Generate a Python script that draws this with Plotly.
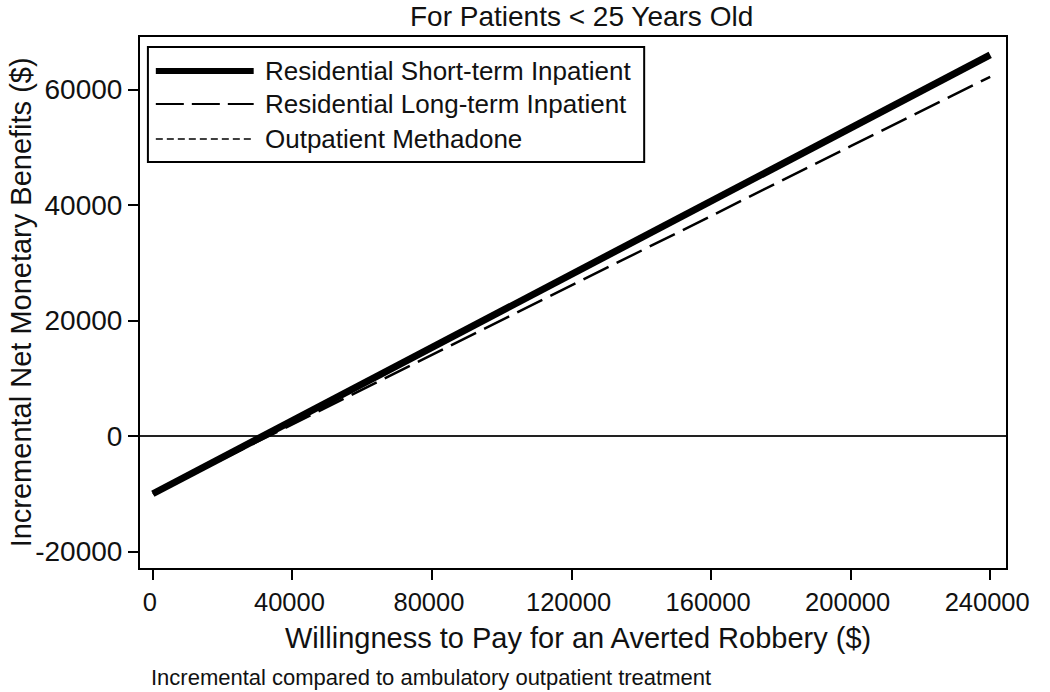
import plotly.graph_objects as go

# ---- data ----
wtp = [0, 40000, 80000, 120000, 160000, 200000, 240000]
short_term = [-10000, 2700, 15300, 28000, 40700, 53300, 66000]
long_term = [-10000, 2000, 14000, 26100, 38100, 50200, 62200]
methadone = [-10000, 2600, 15200, 27800, 40400, 53000, 65600]

series_names = ["Residential Short-term Inpatient",
                "Residential Long-term Inpatient",
                "Outpatient Methadone"]
x_ticks = [0, 40000, 80000, 120000, 160000, 200000, 240000]
y_ticks = [-20000, 0, 20000, 40000, 60000]

title_text = "For Patients < 25 Years Old"
x_title = "Willingness to Pay for an Averted Robbery ($)"
y_title = "Incremental Net Monetary Benefits ($)"
note_text = "Incremental compared to ambulatory outpatient treatment"

# ---- layout geometry (pixels, window coordinates) ----
W, H = 1042, 692
L, R, T, B = 140, 1016, 37, 568
FONT = "Liberation Sans, Arial, sans-serif"
INK = "#111111"


def px(xp):
    return (xp - L) / (R - L)


def py(yp):
    return (B - yp) / (B - T)


styles = [dict(width=7, dash="solid"),
          dict(width=2.5, dash="28px,9px"),
          dict(width=1.5, dash="7px,4px")]
legend_styles = [dict(width=6, dash="solid"),
                 dict(width=1.8, dash="28px,8px"),
                 dict(width=1.5, dash="7px,4px")]

fig = go.Figure()
for name, ys, st in zip(series_names, [short_term, long_term, methadone], styles):
    fig.add_trace(go.Scatter(x=wtp, y=ys, mode="lines", name=name,
                             line=dict(color="black", width=st["width"], dash=st["dash"]),
                             showlegend=False))

shapes = []
annotations = []

# custom legend box
shapes.append(dict(type="rect", xref="paper", yref="paper",
                   x0=px(148), x1=px(650), y0=py(162), y1=py(47),
                   line=dict(color="black", width=2), fillcolor="white", layer="above"))
rows = [71, 104, 139]
for name, yr, st in zip(series_names, rows, legend_styles):
    shapes.append(dict(type="line", xref="paper", yref="paper",
                       x0=px(156), x1=px(255), y0=py(yr), y1=py(yr),
                       line=dict(color="black", width=st["width"], dash=st["dash"]),
                       layer="above"))
    annotations.append(dict(text=name, xref="paper", yref="paper",
                            x=px(264), y=py(yr), xanchor="left", yanchor="middle",
                            showarrow=False, font=dict(family=FONT, size=26, color=INK)))

# titles / notes
annotations.append(dict(text=title_text, xref="paper", yref="paper",
                        x=px(587), y=py(0), xanchor="center", yanchor="top",
                        borderpad=0,
                        showarrow=False, font=dict(family=FONT, size=28, color=INK)))
annotations.append(dict(text=x_title, xref="paper", yref="paper",
                        x=px(583), y=py(638), xanchor="center", yanchor="middle",
                        showarrow=False, font=dict(family=FONT, size=29, color=INK)))
annotations.append(dict(text=y_title, xref="paper", yref="paper",
                        x=px(20), y=py(302), xanchor="center", yanchor="middle",
                        textangle=-90,
                        showarrow=False, font=dict(family=FONT, size=29, color=INK)))
annotations.append(dict(text=note_text, xref="paper", yref="paper",
                        x=px(149), y=py(692), xanchor="left", yanchor="bottom",
                        showarrow=False, font=dict(family=FONT, size=22, color=INK)))

fig.update_layout(
    width=W, height=H,
    margin=dict(l=L, r=W - R, t=T, b=H - B, pad=0),
    paper_bgcolor="white", plot_bgcolor="white",
    font=dict(family=FONT, color=INK),
    shapes=shapes, annotations=annotations,
    showlegend=False,
)
fig.update_xaxes(range=[-3684, 244534], tickvals=x_ticks,
                 ticktext=[str(v) for v in x_ticks],
                 ticklabelshift=-3,
                 showgrid=False, zeroline=False,
                 showline=True, mirror=True, linecolor="black", linewidth=2,
                 ticks="outside", ticklen=10, tickwidth=2, tickcolor="black",
                 tickfont=dict(family=FONT, size=25.5, color=INK))
fig.update_yaxes(range=[-22857, 69091], tickvals=y_ticks,
                 ticktext=[str(v) for v in y_ticks],
                 showgrid=False, zeroline=True, zerolinecolor="#222222", zerolinewidth=1.5,
                 showline=True, mirror=True, linecolor="black", linewidth=2,
                 ticks="outside", ticklen=10, tickwidth=2, tickcolor="black",
                 tickfont=dict(family=FONT, size=28, color=INK))

fig.write_html(
    "out.html",
    config={"displayModeBar": False},
    post_script="document.body.style.margin='0';document.body.style.overflow='hidden';",
)
